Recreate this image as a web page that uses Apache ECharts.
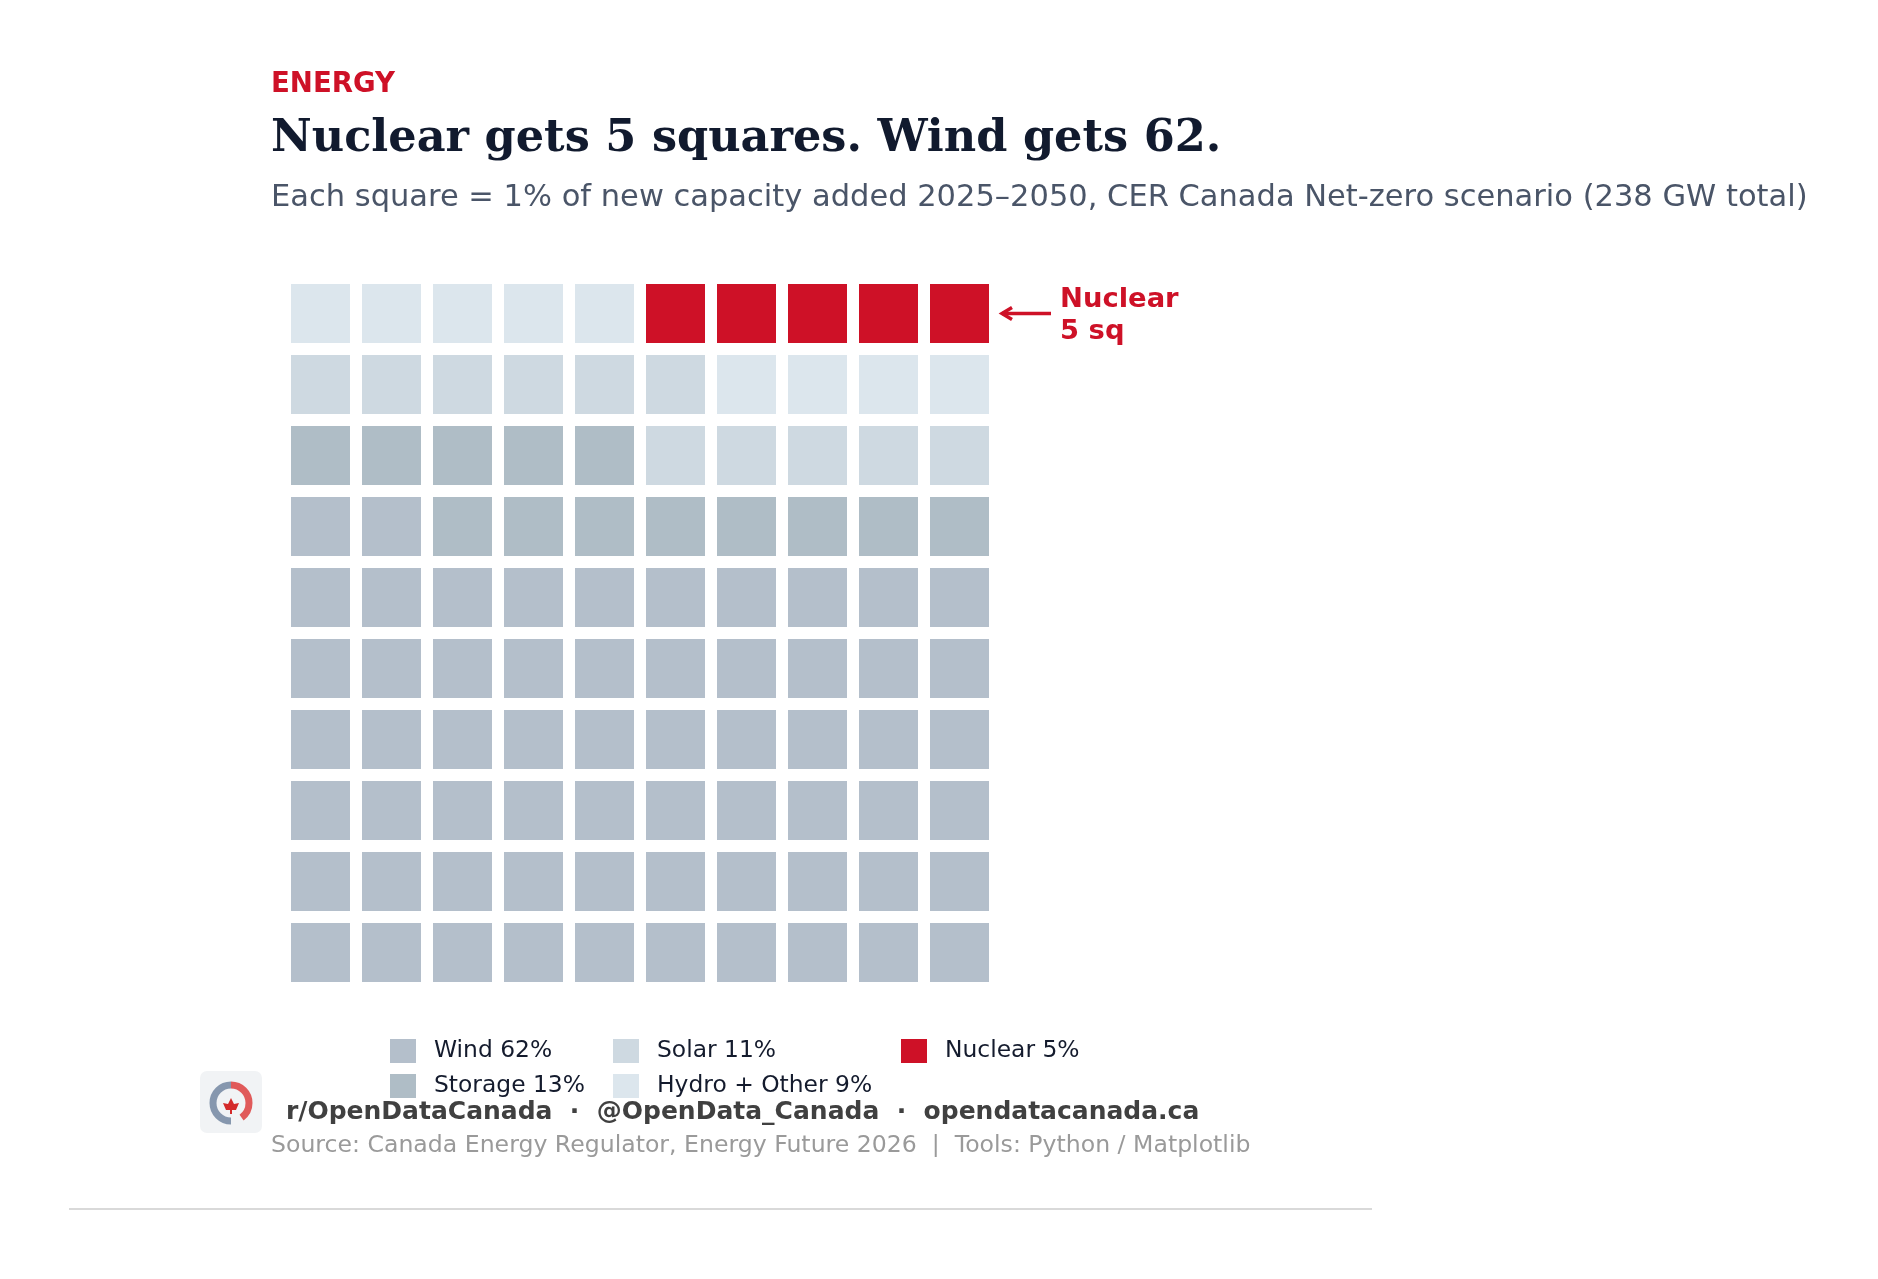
<!DOCTYPE html>
<html>
<head>
<meta charset="utf-8">
<title>Nuclear gets 5 squares. Wind gets 62.</title>
<script src="https://cdn.jsdelivr.net/npm/echarts@6/dist/echarts.min.js"></script>
<style>
    html, body { margin: 0; padding: 0; background: #ffffff; }
    #waffle { width: 1878px; height: 1279px; }
</style>
</head>
<body>
<div id="waffle"></div>
<script>
// share of new capacity 2025-2050, one square per percent
var categories = ['Wind', 'Storage', 'Solar', 'Hydro + Other', 'Nuclear'];
var shares = [62, 13, 11, 9, 5];
var gridCols = 10;
var gridRows = 10;

var palette = {
    'Wind': '#b4bfcb',
    'Storage': '#afbdc6',
    'Solar': '#ced9e1',
    'Hydro + Other': '#dce6ed',
    'Nuclear': '#ce1127'
};

var RED = '#ce1127';
var SANS = 'DejaVu Sans';

// fill order: left to right, bottom row first
function buildCells() {
    var out = [];
    var idx = 0;
    for (var k = 0; k < categories.length; k++) {
        var pts = [];
        for (var j = 0; j < shares[k]; j++) {
            var col = idx % gridCols;
            var row = Math.floor(idx / gridCols);
            pts.push([col + 0.5, row + 0.5]);
            idx++;
        }
        out.push(pts);
    }
    return out;
}

var cells = buildCells();

var series = categories.map(function (name, k) {
    return {
        name: name,
        type: 'scatter',
        symbol: 'rect',
        symbolSize: 59,
        silent: true,
        itemStyle: { color: palette[name], opacity: 1 },
        data: cells[k]
    };
});

function legendFor(names, left) {
    return {
        data: names,
        orient: 'vertical',
        left: left,
        top: 1034,
        icon: 'rect',
        itemWidth: 26,
        itemHeight: 24,
        itemGap: 11,
        selectedMode: false,
        formatter: function (name) {
            return name + ' ' + shares[categories.indexOf(name)] + '%';
        },
        textStyle: {
            fontFamily: SANS,
            fontSize: 23.4,
            color: '#141b2d',
            padding: [0, 0, 0, 13]
        }
    };
}

var chart = echarts.init(document.getElementById('waffle'), null, { renderer: 'canvas' });

var option = {
    animation: false,
    backgroundColor: '#ffffff',
    grid: { left: 285, top: 278, width: 710, height: 710 },
    xAxis: { type: 'value', min: 0, max: gridCols, show: false },
    yAxis: { type: 'value', min: 0, max: gridRows, show: false },
    legend: [
        legendFor(['Wind', 'Storage'], 385),
        legendFor(['Solar', 'Hydro + Other'], 608),
        legendFor(['Nuclear'], 896)
    ],
    series: series
};

chart.setOption(option);

// callout placed off the last nuclear square
var lastNuclear = cells[categories.indexOf('Nuclear')].slice(-1)[0];
var p = chart.convertToPixel({ gridIndex: 0 }, lastNuclear);
var edge = p[0] + 29.5;

chart.setOption({
    graphic: [
        {
            id: 'kicker', type: 'text', left: 271, top: 71,
            style: { text: 'ENERGY', fill: RED, font: 'bold 27.6px "DejaVu Sans"' }
        },
        {
            id: 'headline', type: 'text', left: 271, top: 117,
            style: { text: 'Nuclear gets 5 squares. Wind gets 62.', fill: '#111a2e', font: 'bold 44.6px "DejaVu Serif"' }
        },
        {
            id: 'sub', type: 'text', left: 271, top: 183,
            style: { text: 'Each square = 1% of new capacity added 2025\u20132050, CER Canada Net-zero scenario (238 GW total)', fill: '#4a5568', font: '30.5px "DejaVu Sans"' }
        },
        {
            id: 'handles', type: 'text', left: 286, top: 1100,
            style: { text: 'r/OpenDataCanada  \u00b7  @OpenData_Canada  \u00b7  opendatacanada.ca', fill: '#404040', font: 'bold 25px "DejaVu Sans"' }
        },
        {
            id: 'source', type: 'text', left: 271, top: 1134,
            style: { text: 'Source: Canada Energy Regulator, Energy Future 2026  |  Tools: Python / Matplotlib', fill: '#9a9a9a', font: '23.6px "DejaVu Sans"' }
        },
        {
            id: 'rule', type: 'line',
            shape: { x1: 69, y1: 1209, x2: 1372, y2: 1209 },
            style: { stroke: '#d9d9d9', lineWidth: 2 }
        },
        // small logo badge
        {
            id: 'logoBg', type: 'rect',
            shape: { x: 200, y: 1071, width: 62, height: 62, r: 7 },
            style: { fill: '#f1f3f5' }
        },
        {
            id: 'logoL', type: 'arc',
            shape: { cx: 231, cy: 1103, r: 18, startAngle: Math.PI * 0.5, endAngle: Math.PI * 1.5 },
            style: { stroke: '#8697ae', lineWidth: 7, fill: null }
        },
        {
            id: 'logoR', type: 'arc',
            shape: { cx: 231, cy: 1103, r: 18, startAngle: -Math.PI * 0.5, endAngle: Math.PI * 0.3 },
            style: { stroke: '#e05a5a', lineWidth: 7, fill: null }
        },
        {
            id: 'leaf', type: 'polygon',
            shape: { points: [[231, 1098], [234, 1104], [239, 1103], [236, 1110], [232, 1110], [232, 1114], [230, 1114], [230, 1110], [226, 1110], [223, 1103], [228, 1104]] },
            style: { fill: '#d42a2a' }
        },
        {
            id: 'arrowShaft', type: 'line',
            shape: { x1: edge + 62, y1: p[1], x2: edge + 13, y2: p[1] },
            style: { stroke: RED, lineWidth: 3.5 }
        },
        {
            id: 'arrowHead', type: 'polyline',
            shape: { points: [[edge + 23, p[1] - 6], [edge + 13, p[1]], [edge + 23, p[1] + 6]] },
            style: { stroke: RED, lineWidth: 3.5, fill: null }
        },
        {
            id: 'callout', type: 'text', x: edge + 71, y: p[1] + 2,
            style: {
                text: 'Nuclear\n5 sq', fill: RED, font: 'bold 27.4px "DejaVu Sans"',
                lineHeight: 32, verticalAlign: 'middle', align: 'left'
            }
        }
    ]
});
</script>
</body>
</html>
